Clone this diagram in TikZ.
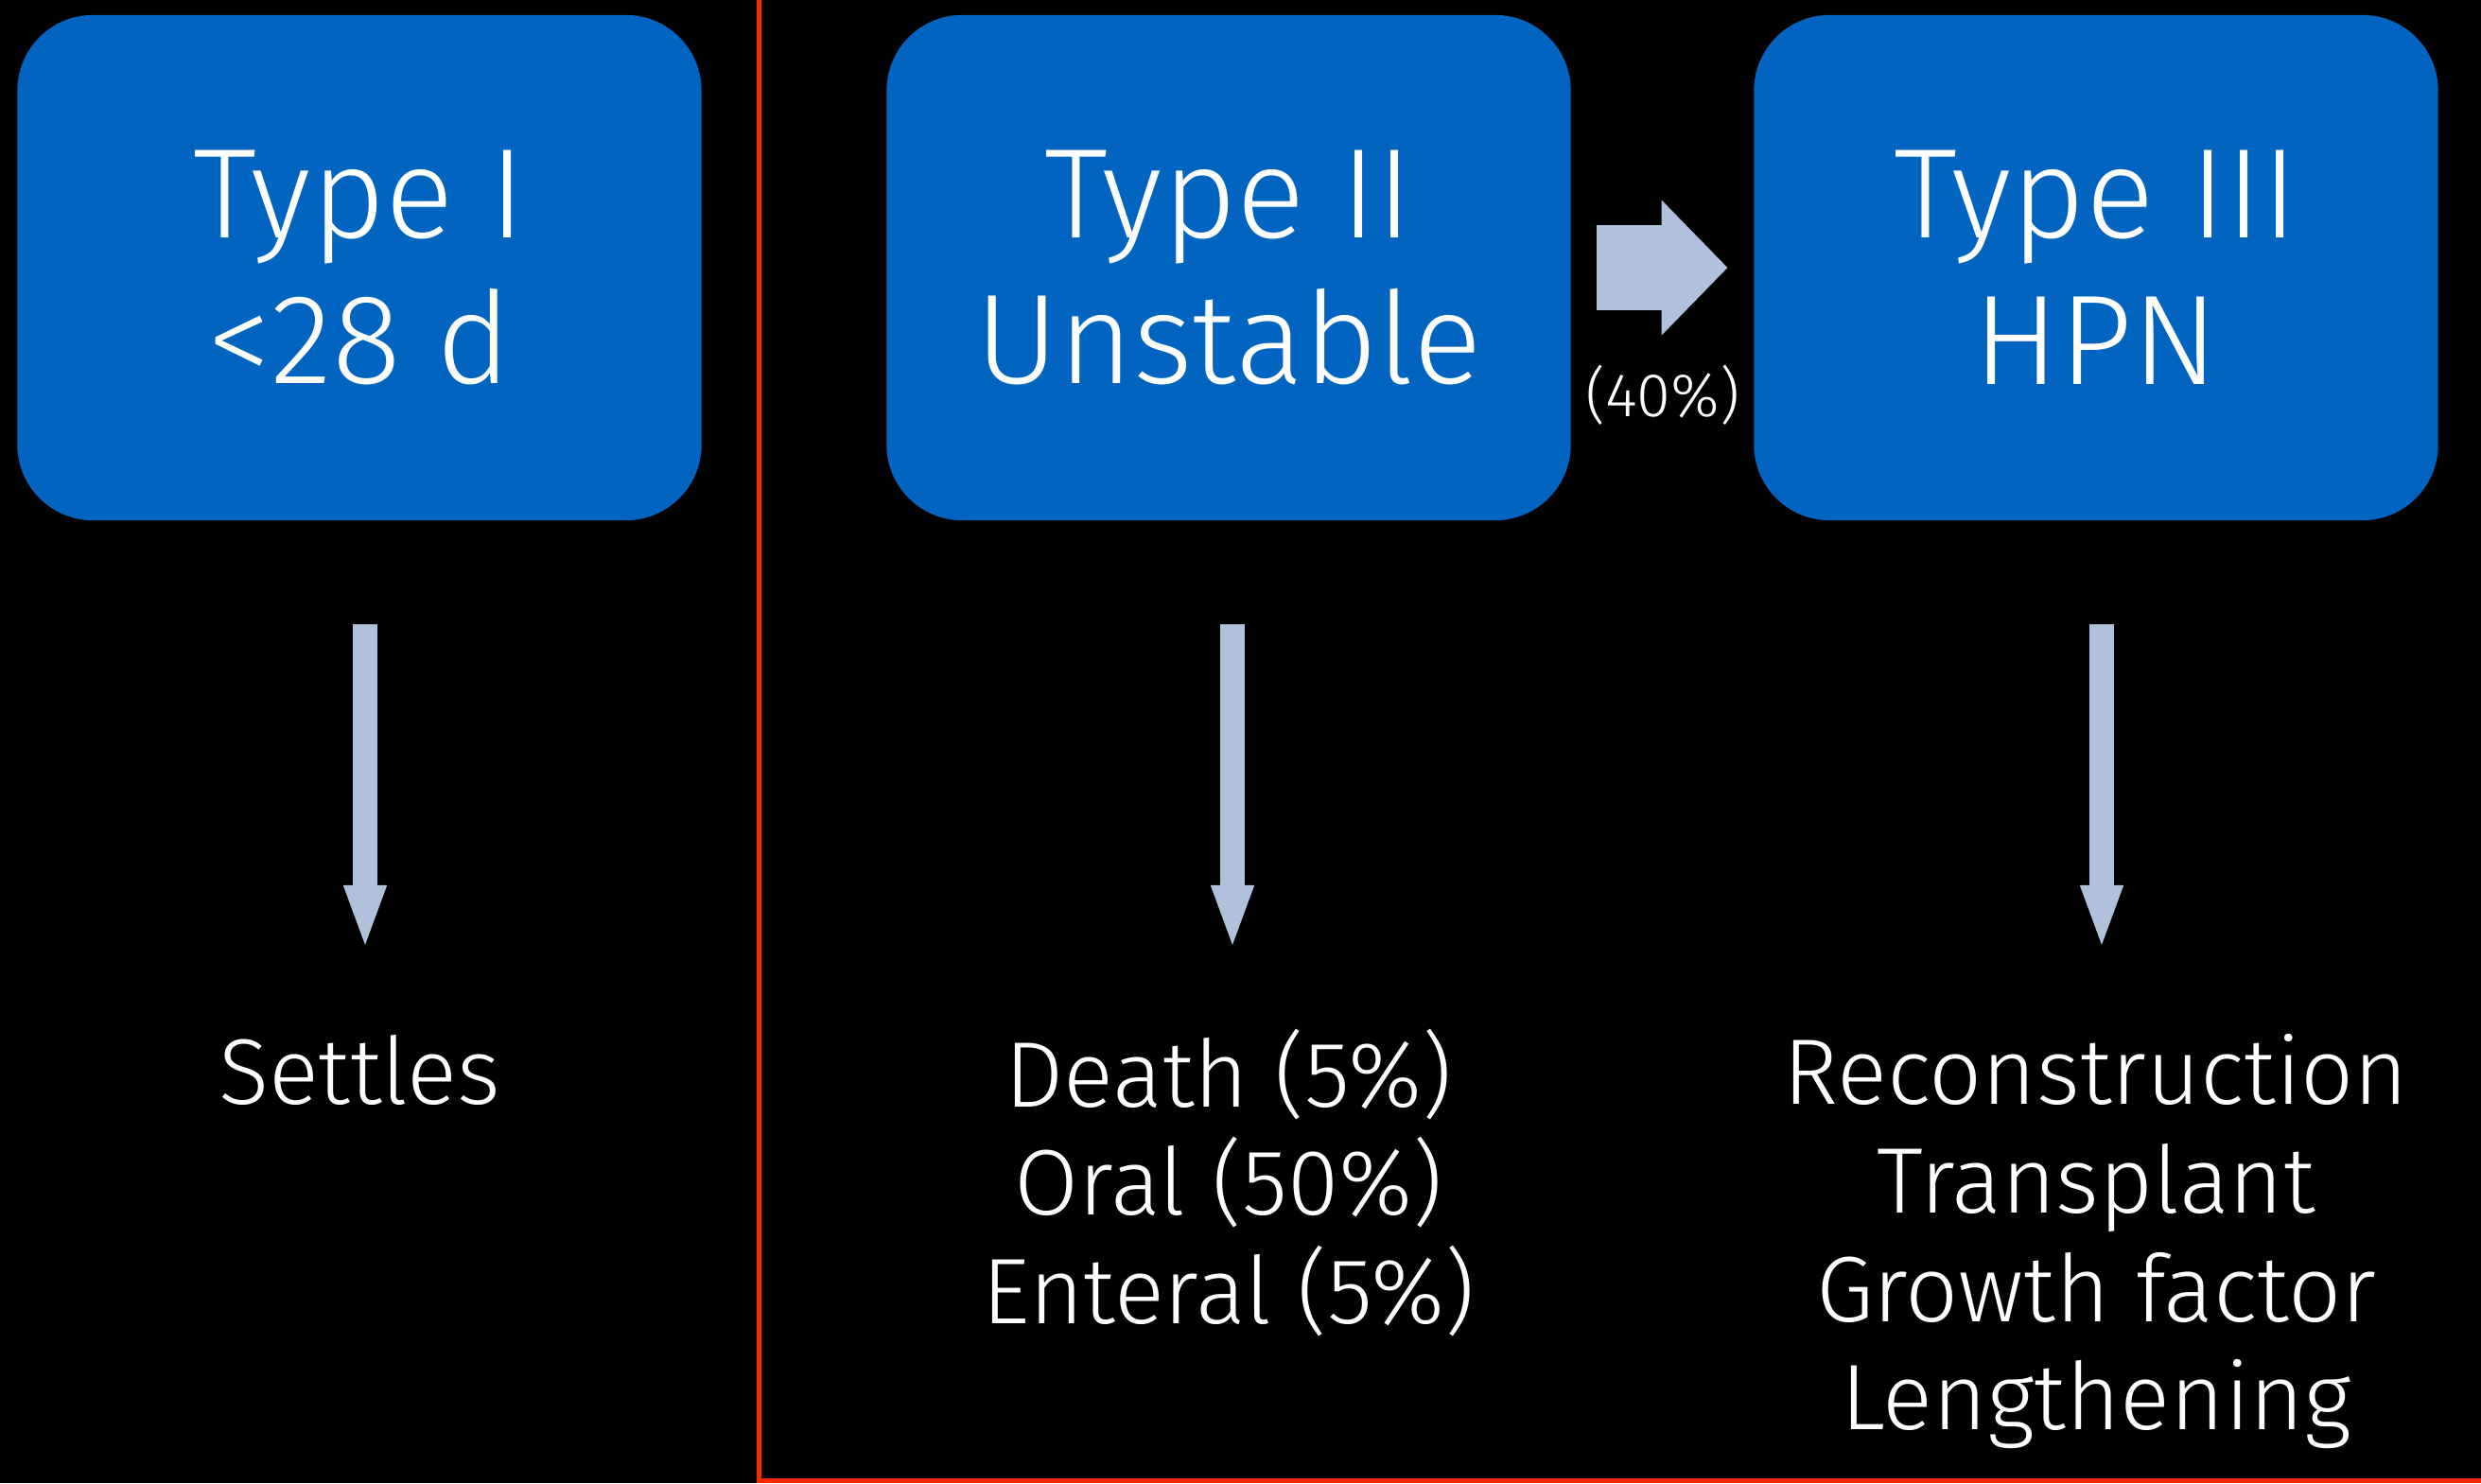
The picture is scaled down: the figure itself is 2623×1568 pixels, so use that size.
\documentclass[tikz,border=0pt]{standalone}
\usepackage{fontspec}
\setmainfont{Fira Sans Light}
\usetikzlibrary{arrows.meta}
\definecolor{boxblue}{RGB}{0,100,192}
\definecolor{arrowblue}{RGB}{176,193,220}
\definecolor{framered}{RGB}{255,38,0}
\newcommand\outcomefont{\fontsize{28}{32.6}\selectfont\lineskiplimit=-50pt\relax}
\tikzset{
  typebox/.style={fill=boxblue, rounded corners=0.8cm, minimum width=7.23cm,
    minimum height=5.34cm, inner sep=0pt, text=white, align=center,
    font=\fontsize{38.4}{44}\selectfont},
  outcome/.style={anchor=north, inner sep=0pt, text=white, align=center,
    font=\outcomefont},
  downarrow/.style={draw=arrowblue, line width=0.26cm,
    -{Triangle[width=0.4cm,length=0.69cm]},
    shorten <=1.09cm, shorten >=0.82cm},
  rightarrow/.style={draw=arrowblue, line width=0.89cm,
    -{Triangle[width=1.39cm,length=0.70cm]},
    shorten <=0.27cm, shorten >=0.27cm},
}

\begin{document}
\begin{tikzpicture}[x=0.01cm, y=-0.01cm]
    % Background
    \useasboundingbox (0,0) rectangle (2623,1568);
    \fill[black] (0,0) rectangle (2623,1568);

    % Red frame round types II and III
    \draw[framered, line width=0.05cm] (802.5,-50) -- (802.5,1565) -- (2700,1565);

    % Type boxes
    \node[typebox] (t1) at (380,283) {Type I\\<28 d};
    \node[typebox] (t2) at (1299,283) {Type II\\Unstable};
    \node[typebox] (t3) at (2216,283) {Type III\\HPN};

    % Outcomes
    \node[outcome] (o1) at (380,1087) {\strut Settles};
    \node[outcome] (o2) at (1299,1087) {\strut Death (5\%)\\Oral (50\%)\\Enteral (5\%)};
    \node[outcome] (o3) at (2216,1087) {\strut Reconstruction\\Transplant\\Growth factor\\Lengthening};

    % Arrows
    \draw[rightarrow] (t2.east) -- (t3.west);
    \node[anchor=base, inner sep=0pt, text=white, font=\fontsize{18.5}{22}\selectfont]
      (p40) at (1758,440) {(40\%)};
    \draw[downarrow] ([xshift=0.06cm]t1.south) -- ([xshift=0.06cm]o1.north);
    \draw[downarrow] ([xshift=0.04cm]t2.south) -- ([xshift=0.04cm]o2.north);
    \draw[downarrow] ([xshift=0.06cm]t3.south) -- ([xshift=0.06cm]o3.north);
\end{tikzpicture}
\end{document}
